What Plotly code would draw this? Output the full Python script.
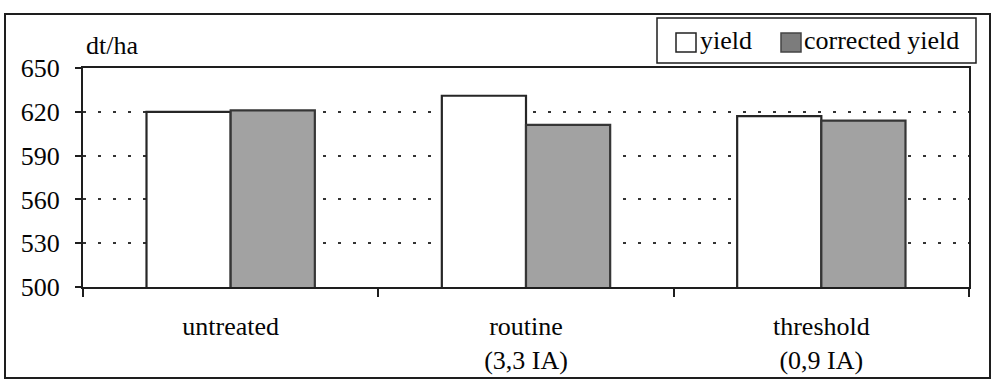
import plotly.graph_objects as go

# Data
categories = ["untreated", "routine<br>(3,3 IA)", "threshold<br>(0,9 IA)"]
series_names = ["yield", "corrected yield"]
yield_values = [620, 631, 617]
corrected_values = [621, 611, 614]
y_ticks = [500, 530, 560, 590, 620, 650]
unit_label = "dt/ha"

# Canvas and plot-area geometry (pixels)
W, H = 995, 382
L, R, T, B = 83, 969, 68, 287

FONT = "Liberation Serif"
INK = "#1e1e1e"
TXT = "#050505"
FS = 26


def px(x, y):
    """Convert canvas pixels to paper coordinates."""
    return (x - L) / (R - L), (B - y) / (B - T)


fig = go.Figure()
fig.add_trace(go.Bar(
    x=categories, y=yield_values, name=series_names[0],
    marker=dict(color="white", line=dict(color="#262626", width=2.2)),
    showlegend=False,
))
fig.add_trace(go.Bar(
    x=categories, y=corrected_values, name=series_names[1],
    marker=dict(color="#a2a2a2", line=dict(color="#363636", width=2.2)),
    showlegend=False,
))

shapes = []
annotations = []

# Outer frame around the whole chart
x0, y0 = px(5, 14)
x1, y1 = px(990, 378)
shapes.append(dict(type="rect", xref="paper", yref="paper",
                   x0=x0, y0=y0, x1=x1, y1=y1,
                   line=dict(color=INK, width=2), fillcolor="rgba(0,0,0,0)",
                   layer="below"))

# Legend box
x0, y0 = px(657, 18)
x1, y1 = px(976, 63)
shapes.append(dict(type="rect", xref="paper", yref="paper",
                   x0=x0, y0=y0, x1=x1, y1=y1,
                   line=dict(color=INK, width=1.5), fillcolor="white"))

legend_items = [
    (series_names[0], 676, "white", "#222222", 698),
    (series_names[1], 781, "#7c7c7c", "#444444", 802),
]
for name, sx, fill, edge, tx in legend_items:
    a0, b0 = px(sx, 33)
    a1, b1 = px(sx + 20, 52)
    shapes.append(dict(type="rect", xref="paper", yref="paper",
                       x0=a0, y0=b0, x1=a1, y1=b1,
                       line=dict(color=edge, width=1.5), fillcolor=fill))
    ax, ay = px(tx, 41)
    annotations.append(dict(xref="paper", yref="paper", x=ax, y=ay,
                            text=name, showarrow=False,
                            xanchor="left", yanchor="middle",
                            font=dict(family=FONT, size=FS, color=TXT)))

# Unit label above the value axis
ax, ay = px(84, 46)
annotations.append(dict(xref="paper", yref="paper", x=ax, y=ay,
                        text=unit_label, showarrow=False,
                        xanchor="left", yanchor="middle",
                        font=dict(family=FONT, size=FS, color=TXT)))

fig.update_layout(
    width=W, height=H,
    margin=dict(l=L, r=W - R, t=T, b=H - B, pad=0, autoexpand=False),
    paper_bgcolor="white", plot_bgcolor="white",
    barmode="group", bargap=0.43, bargroupgap=0,
    font=dict(family=FONT, size=FS, color=TXT),
    shapes=shapes, annotations=annotations,
    showlegend=False,
)

fig.update_xaxes(
    type="category", automargin=False,
    showline=True, mirror=True, linecolor=INK, linewidth=2,
    ticks="outside", tickson="boundaries", ticklen=8,
    tickcolor=INK, tickwidth=1.5,
    showgrid=False,
    tickfont=dict(family=FONT, size=FS, color=TXT),
    ticklabelstandoff=15,
)

fig.update_yaxes(
    range=[500, 650], tickvals=y_ticks, automargin=False,
    showline=True, mirror=True, linecolor=INK, linewidth=2,
    ticks="outside", ticklen=6, tickcolor=INK, tickwidth=1.5,
    showgrid=True, gridcolor="#333333", gridwidth=1.5, griddash="3px,12px",
    zeroline=False,
    tickfont=dict(family=FONT, size=FS, color=TXT),
    ticklabelstandoff=10,
)

fig.write_html("out.html")
